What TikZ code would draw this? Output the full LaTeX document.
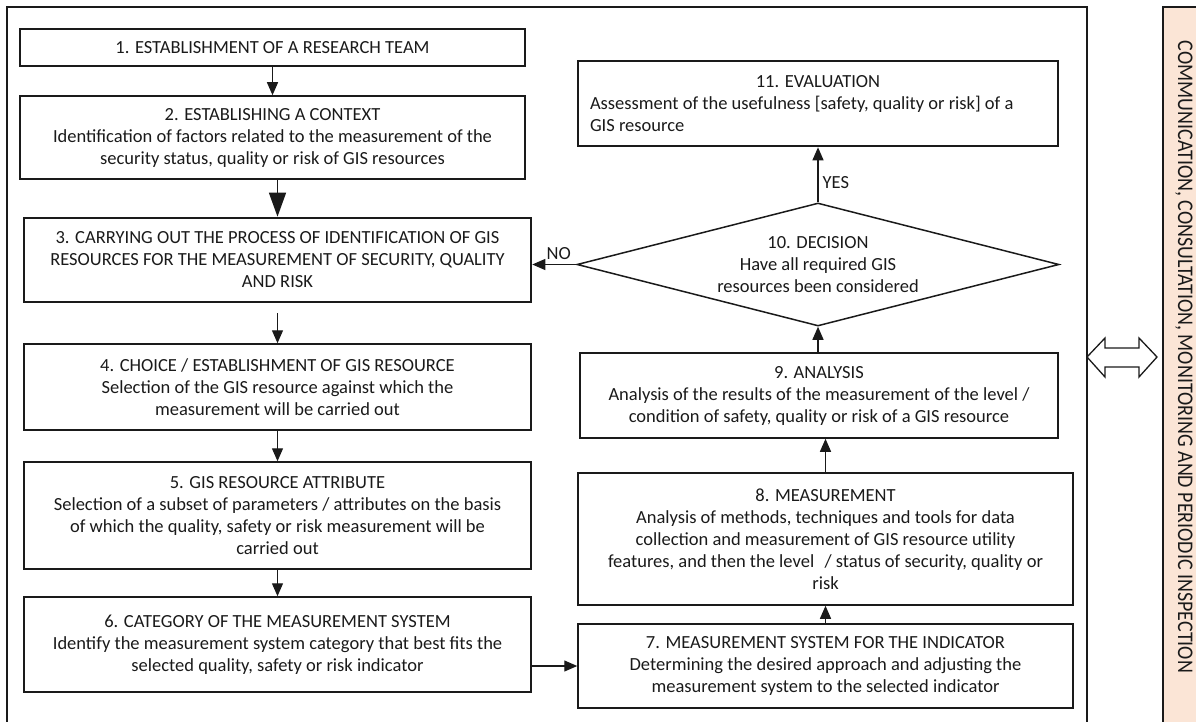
\documentclass[tikz,border=0pt]{standalone}
\usepackage{fontspec}
\setmainfont{Carlito}
\usetikzlibrary{arrows.meta,shapes.geometric,calc}
\definecolor{peach}{HTML}{FBE5D6}
\definecolor{ink}{HTML}{1A1A1A}
\begin{document}
\begin{tikzpicture}[x=1pt,y=-1pt,
  box/.style={draw=ink, line width=1.5pt, align=center, inner sep=0pt, text=ink,
    font=\fontsize{18.5}{22}\selectfont},
  heavybox/.style={box, line width=2.6pt},
  decision/.style={box, diamond, shape aspect=3.92},
  arr/.style={draw=ink, line width=1.3pt, -{Triangle[length=13pt,width=11pt]}},
  bigarr/.style={draw=ink, line width=1.3pt, -{Triangle[length=24pt,width=17pt]}},
  lbl/.style={text=ink, font=\fontsize{18.5}{20}\selectfont, inner sep=1pt}]
\useasboundingbox (0,0) rectangle (1196,722);
% outer frame
\draw[ink, line width=2.2pt] (7,722) -- (7,7) -- (1087,7) -- (1087,722);
% side bar
\fill[peach] (1163,7) rectangle (1196,722);
\draw[ink, line width=1.6pt] (1163,722) -- (1163,7) -- (1196,7);
\node[rotate=-90, inner sep=0pt, text=ink] (side) at (1184,357)
  {\resizebox{632pt}{14.5pt}{\fontsize{20}{20}\selectfont COMMUNICATION, CONSULTATION, MONITORING AND PERIODIC INSPECTION}};
% double arrow between frame and side bar
\draw[ink, line width=1.3pt, fill=white] (1087,357) -- (1105,338) -- (1105,348) -- (1139,348) -- (1139,338)
  -- (1157,357) -- (1139,377) -- (1139,367) -- (1105,367) -- (1105,377) -- cycle;

% left column
\node[box, minimum width=505pt, minimum height=37pt] (b1) at (272.5,47.5)
  {1. ESTABLISHMENT OF A RESEARCH TEAM};
\node[box, minimum width=505pt, minimum height=83pt] (b2) at (272.5,137.5)
  {2. ESTABLISHING A CONTEXT\\Identification of factors related to the measurement of the\\security status, quality or risk of GIS resources};
\node[heavybox, minimum width=507pt, minimum height=84pt] (b3) at (277.5,260)
  {3. CARRYING OUT THE PROCESS OF IDENTIFICATION OF GIS\\RESOURCES FOR THE MEASUREMENT OF SECURITY, QUALITY\\AND RISK};
\node[box, minimum width=507pt, minimum height=86pt] (b4) at (277.5,387)
  {4. CHOICE / ESTABLISHMENT OF GIS RESOURCE\\Selection of the GIS resource against which the\\measurement will be carried out};
\node[box, minimum width=507pt, minimum height=107pt] (b5) at (277.5,515.5)
  {5. GIS RESOURCE ATTRIBUTE\\Selection of a subset of parameters / attributes on the basis\\of which the quality, safety or risk measurement will be\\carried out};
\node[box, minimum width=507pt, minimum height=95pt] (b6) at (277.5,644.5)
  {6. CATEGORY OF THE MEASUREMENT SYSTEM\\Identify the measurement system category that best fits the\\selected quality, safety or risk indicator};

% right column
\node[heavybox, minimum width=480pt, minimum height=85pt, align=left] (b11) at (818,103.5)
  {\makebox[456pt][c]{11. EVALUATION}\\Assessment of the usefulness [safety, quality or risk] of a\\GIS resource};
\node[decision, minimum width=482pt, minimum height=123pt] (d10) at (818,264.5)
  {10. DECISION\\Have all required GIS\\resources been considered};
\node[box, minimum width=478pt, minimum height=85pt] (b9) at (819,395.5)
  {9. ANALYSIS\\Analysis of the results of the measurement of the level /\\condition of safety, quality or risk of a GIS resource};
\node[box, minimum width=495pt, minimum height=132pt] (b8) at (825.5,539)
  {8. MEASUREMENT\\Analysis of methods, techniques and tools for data\\collection and measurement of GIS resource utility\\features, and then the level\,\, / status of security, quality or\\risk};
\node[box, minimum width=495pt, minimum height=84pt] (b7) at (825.5,666)
  {7. MEASUREMENT SYSTEM FOR THE INDICATOR\\Determining the desired approach and adjusting the\\measurement system to the selected indicator};

% connectors
\draw[arr] (b1) -- (b2);
\draw[bigarr] (b3.north |- b2.south) -- (b3.north);
\draw[arr, shorten <=10pt] (b3) -- (b4);
\draw[arr] (b4) -- (b5);
\draw[arr] (b5) -- (b6);
\draw[arr] (b6.east |- b7.west) -- (b7.west);
\draw[arr] (b7) -- (b8);
\draw[arr] (b8.north) -- (b8.north |- b9.south);
\draw[arr] (d10.south |- b9.north) -- (d10.south);
\draw[arr] (d10.north) -- node[lbl, pos=0.35, right=3pt] {YES} (b11.south);
\draw[arr] (d10.west) -- node[lbl, pos=0.4, above=3pt] {NO} (b3.east |- d10.west);
\end{tikzpicture}
\end{document}
